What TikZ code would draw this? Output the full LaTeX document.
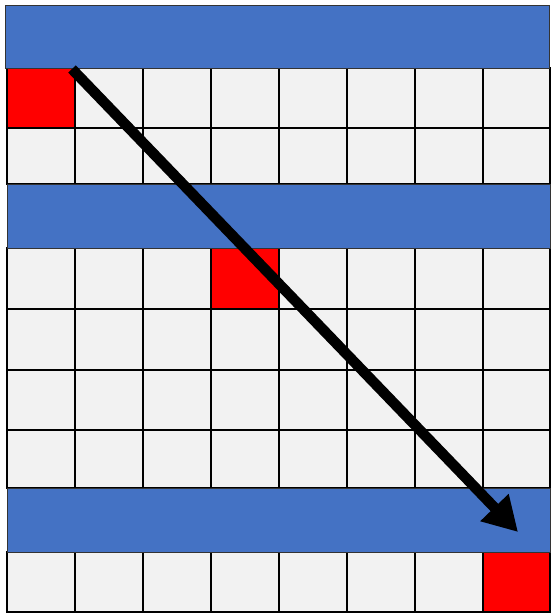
\documentclass[tikz,border=0pt]{standalone}
\usetikzlibrary{arrows.meta}
\definecolor{cellgray}{HTML}{F2F2F2}
\definecolor{barblue}{HTML}{4472C4}
\definecolor{cellred}{HTML}{FF0000}
\tikzset{
  cellbox/.style={fill=cellgray, draw=black, line width=1.3pt},
  redbox/.style={fill=cellred, draw=black, line width=1.3pt},
  barbox/.style={fill=barblue, draw=black!80, line width=1pt},
  bigarrow/.style={line width=10.5pt, -{Triangle[length=34pt,width=37pt]}}
}
\begin{document}
\begin{tikzpicture}[x=1pt,y=-1pt]
\useasboundingbox (0,0) rectangle (551,613);
\fill[white] (0,0) rectangle (551,613);
% grid rows (top, bottom)
\foreach \ya/\yb in {68/128,128/184,248/309,309/370,370/430,430/488,552/612}{
  \foreach \xa/\xb in {7/75,75/143,143/211,211/279,279/347,347/415,415/483,483/550}{
    \draw[cellbox] (\xa,\ya) rectangle (\xb,\yb);
  }
}
% red cells
\draw[redbox] (7,68) rectangle (75,128);
\draw[redbox] (211,248) rectangle (279,309);
\draw[redbox] (483,552) rectangle (550,612);
% blue bars
\draw[barbox] (5,5) rectangle (549,68);
\draw[barbox] (7,184) rectangle (550,248);
\draw[barbox] (7,488) rectangle (550,552);
% arrow
\coordinate (start) at (72,69);
\coordinate (tip) at (518,532);
\draw[bigarrow] (start) -- (tip);
\end{tikzpicture}
\end{document}
